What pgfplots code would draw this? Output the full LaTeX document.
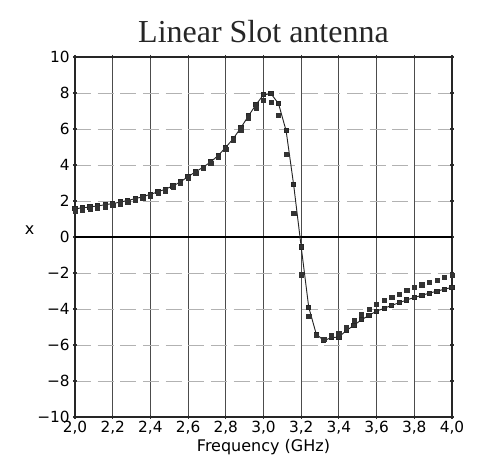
\documentclass[border=0pt]{standalone}
\usepackage{fontspec}
\setmainfont{Liberation Serif}
\newfontfamily\plotfont{DejaVu Sans}
\usepackage{pgfplots}
\pgfplotsset{compat=1.18}

% 1 px of the reference = 0.75pt
\pgfplotstableread{
f     a      b
2.00  1.57   1.42
2.04  1.62   1.48
2.08  1.67   1.54
2.12  1.73   1.61
2.16  1.79   1.68
2.20  1.86   1.76
2.24  1.94   1.85
2.28  2.03   1.94
2.32  2.13   2.04
2.36  2.24   2.15
2.40  2.37   2.28
2.44  2.51   2.42
2.48  2.66   2.57
2.52  2.84   2.75
2.56  3.06   2.97
2.60  3.36   3.27
2.64  3.62   3.53
2.68  3.88   3.80
2.72  4.17   4.08
2.76  4.53   4.44
2.80  4.98   4.88
2.84  5.47   5.37
2.88  6.07   5.96
2.92  6.72   6.60
2.96  7.35   7.15
3.00  7.90   7.60
3.04  7.96   7.50
3.08  7.40   6.75
3.12  5.90   4.60
3.16  2.90   1.30
3.20  -0.55  -2.10
3.24  -3.90  -4.40
3.28  -5.40  -5.45
3.32  -5.75  -5.70
3.36  -5.60  -5.45
3.40  -5.55  -5.35
3.44  -5.20  -5.00
3.48  -4.90  -4.63
3.52  -4.60  -4.30
3.56  -4.35  -4.00
3.60  -4.12  -3.72
3.64  -3.96  -3.53
3.68  -3.80  -3.35
3.72  -3.65  -3.17
3.76  -3.50  -2.98
3.80  -3.36  -2.80
3.84  -3.24  -2.65
3.88  -3.12  -2.52
3.92  -3.01  -2.39
3.96  -2.90  -2.25
4.00  -2.80  -2.12
}\slotdata

\begin{document}
\begin{tikzpicture}
\path[use as bounding box] (-56.25pt,-31.5pt) rectangle (303.75pt,312.75pt);
\begin{axis}[
  at={(0,0)}, anchor=south west,
  scale only axis,
  width=282.75pt, height=270pt,
  xmin=2.0, xmax=4.0, ymin=-10, ymax=10,
  xtick={2.0,2.2,...,4.01},
  xticklabels={{2,0},{2,2},{2,4},{2,6},{2,8},{3,0},{3,2},{3,4},{3,6},{3,8},{4,0}},
  ytick={-10,-8,...,10},
  yticklabels={−10,−8,−6,−4,−2,0,2,4,6,8,10},
  tick label style={font=\plotfont\fontsize{11.5}{12}\selectfont},
  xticklabel style={yshift=2pt},
  yticklabel style={xshift=1pt},
  tick align=center, major tick length=3pt,
  tick style={black!80, line width=0.8pt},
  axis line style={black!85, line width=0.9pt},
  xmajorgrids, ymajorgrids,
  x grid style={black!70, line width=0.8pt},
  y grid style={black!30, line width=0.6pt, dash pattern=on 12pt off 5pt},
  xlabel={Frequency (GHz)},
  xlabel style={font=\plotfont\fontsize{12}{13}\selectfont, yshift=3pt},
  ylabel={x},
  ylabel style={font=\plotfont\fontsize{12}{13}\selectfont, rotate=-90,
    at={(rel axis cs:0,0.52)}, anchor=center, xshift=-34pt},
  title={Linear Slot antenna},
  title style={font=\fontsize{24}{26}\selectfont, color=black!85, yshift=1pt},
  clip=false,
]
\addplot[black, line width=0.9pt] coordinates {(2.0,0)(4.0,0)};
\addplot[black!85, line width=0.7pt, mark=square*, mark size=1.6pt,
  mark options={solid, fill=black!80}] table[x=f, y=a] {\slotdata};
\addplot[only marks, mark=square*, mark size=1.6pt,
  mark options={black!80, fill=black!80}] table[x=f, y=b] {\slotdata};
\end{axis}
\end{tikzpicture}
\end{document}
